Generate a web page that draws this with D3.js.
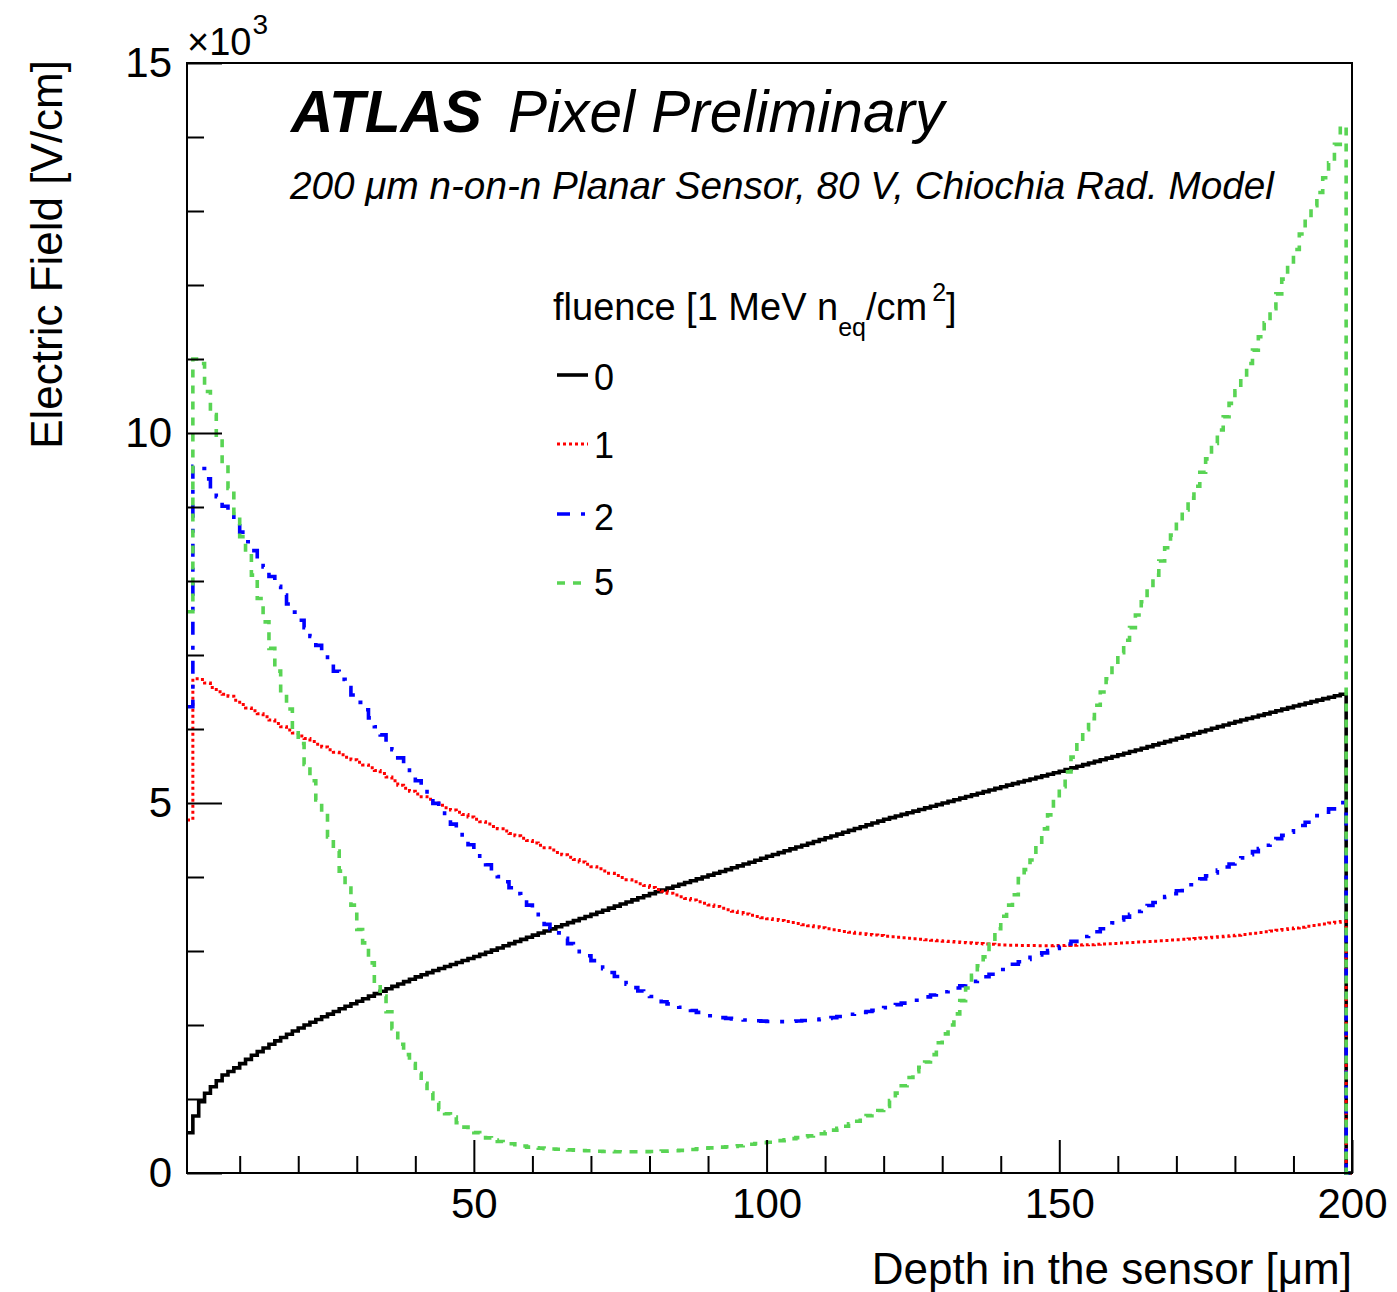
<!DOCTYPE html>
<html><head><meta charset="utf-8">
<script src="https://cdn.jsdelivr.net/npm/d3@7"></script>
<style>
body{margin:0;background:#fff;}
svg{display:block;}
text{font-family:"Liberation Sans",Arial,Helvetica,sans-serif;fill:#000;}
</style>
</head><body>
<svg id="chart" width="1397" height="1292"></svg>
<script>
// ---------------- data ----------------
const depthStart = 1;      // low edge of first bin [um]
const depthEnd = 200;      // axis end [um]
const fluences = ["0", "1", "2", "5"];

// Electric field [V/cm] per 1-um bin, bins starting at 1,2,...,198 um
const field0 = [
544,770,963,1077,1166,1247,1324,1372,1420,1478,
1535,1592,1640,1690,1740,1786,1831,1875,1918,1960,
2000,2038,2075,2111,2147,2183,2219,2253,2287,2320,
2355,2390,2424,2457,2490,2522,2554,2586,2618,2650,
2679,2708,2736,2763,2790,2817,2844,2871,2898,2925,
2954,2983,3012,3041,3070,3099,3128,3157,3186,3215,
3243,3271,3299,3327,3355,3383,3411,3439,3467,3495,
3523,3551,3579,3607,3635,3663,3691,3719,3747,3775,
3800,3825,3850,3875,3900,3925,3950,3975,4000,4025,
4050,4075,4100,4125,4150,4175,4200,4226,4253,4280,
4305,4330,4355,4380,4405,4430,4455,4480,4505,4530,
4555,4580,4605,4630,4655,4680,4705,4730,4755,4780,
4802,4824,4846,4868,4890,4912,4934,4956,4978,5000,
5022,5044,5066,5088,5110,5132,5154,5176,5198,5220,
5241,5262,5283,5304,5325,5346,5367,5388,5409,5430,
5452,5474,5496,5518,5540,5562,5584,5606,5628,5650,
5672,5695,5717,5740,5762,5785,5807,5830,5852,5875,
5897,5920,5942,5965,5987,6010,6032,6055,6077,6100,
6121,6142,6163,6184,6205,6226,6247,6268,6289,6310,
6330,6350,6370,6390,6410,6430,6450,6470];

const field1 = [
4770,6680,6670,6620,6560,6503,6470,6444,6390,6330,
6285,6245,6205,6165,6120,6075,6030,5985,5945,5905,
5870,5830,5795,5758,5720,5686,5652,5618,5585,5550,
5515,5478,5440,5400,5350,5300,5240,5200,5160,5120,
5085,5050,5000,4968,4936,4905,4874,4843,4812,4780,
4748,4716,4684,4652,4620,4588,4556,4524,4492,4460,
4428,4396,4364,4332,4300,4268,4236,4204,4172,4140,
4110,4080,4050,4020,3992,3964,3936,3910,3884,3858,
3832,3806,3782,3758,3734,3710,3688,3666,3644,3622,
3600,3579,3558,3538,3519,3500,3482,3465,3450,3436,
3424,3412,3398,3384,3370,3356,3342,3328,3314,3300,
3288,3276,3264,3252,3240,3232,3224,3216,3208,3200,
3193,3186,3179,3172,3165,3158,3151,3145,3139,3133,
3127,3121,3115,3110,3105,3100,3095,3090,3086,3082,
3079,3077,3075,3074,3073,3072,3072,3072,3073,3074,
3076,3078,3080,3083,3086,3090,3094,3098,3103,3108,
3112,3116,3120,3124,3128,3133,3138,3143,3148,3153,
3158,3163,3168,3174,3180,3186,3192,3198,3206,3214,
3223,3232,3241,3250,3260,3270,3280,3290,3300,3311,
3322,3333,3344,3355,3366,3377,3388,3398];

const field2 = [
6300,9550,9520,9380,9250,9140,9010,8900,8780,8660,
8530,8410,8300,8190,8060,7930,7810,7690,7580,7470,
7370,7250,7130,7010,6900,6780,6670,6560,6460,6360,
6260,6150,6030,5920,5825,5720,5610,5510,5410,5300,
5200,5095,4995,4905,4815,4715,4615,4525,4435,4345,
4255,4165,4075,4005,3935,3855,3775,3690,3620,3540,
3445,3360,3300,3245,3170,3100,3045,2990,2935,2870,
2815,2760,2710,2655,2605,2550,2505,2460,2420,2385,
2350,2315,2285,2260,2240,2220,2195,2170,2140,2125,
2112,2100,2090,2082,2075,2068,2062,2057,2052,2048,
2045,2045,2046,2050,2055,2060,2066,2072,2079,2088,
2100,2115,2130,2145,2158,2170,2182,2198,2215,2235,
2255,2275,2295,2314,2334,2356,2380,2405,2428,2450,
2472,2500,2530,2560,2590,2620,2652,2685,2718,2750,
2785,2820,2855,2885,2915,2945,2975,3005,3035,3060,
3095,3130,3160,3195,3228,3260,3300,3340,3380,3420,
3458,3496,3535,3575,3615,3655,3695,3735,3775,3815,
3855,3895,3935,3975,4015,4055,4095,4135,4175,4215,
4258,4300,4343,4386,4430,4474,4518,4562,4606,4650,
4695,4740,4785,4830,4875,4920,4965,5005];

const field5 = [
7585,11000,10940,10560,10250,9926,9588,9250,8912,8600,
8372,8080,7764,7448,7089,6782,6481,6270,5985,5805,
5520,5300,5040,4870,4540,4350,4080,3850,3620,3290,
3110,2840,2560,2390,2180,1950,1740,1600,1480,1347,
1212,1080,950,860,800,755,680,620,575,545,
520,475,445,425,410,395,383,365,350,342,
336,330,325,320,316,312,308,304,300,297,
294,291,289,288,287,287,287,288,289,291,
293,295,298,301,306,312,318,326,334,340,
345,350,355,360,368,378,388,398,408,416,
423,438,450,465,478,490,502,513,530,555,
580,603,632,665,700,740,775,810,845,900,
980,1080,1180,1290,1370,1430,1500,1600,1760,1880,
2000,2150,2330,2500,2670,2800,2920,3090,3300,3470,
3620,3760,3980,4100,4230,4430,4650,4840,5070,5220,
5420,5620,5830,5990,6140,6320,6500,6680,6860,7030,
7200,7370,7540,7720,7900,8080,8270,8450,8620,8800,
8960,9120,9280,9470,9650,9860,10040,10220,10400,10570,
10750,10940,11120,11300,11490,11680,11880,12080,12280,12480,
12690,12890,13070,13250,13450,13650,13900,14150];

const xTicksMajor = [50, 100, 150, 200];
const xTicksMinor = [10, 20, 30, 40, 60, 70, 80, 90, 110, 120, 130, 140, 160, 170, 180, 190];
const yTicksMajor = [0, 5000, 10000, 15000];
const yTicksMinor = [1000, 2000, 3000, 4000, 6000, 7000, 8000, 9000, 11000, 12000, 13000, 14000];

// ---------------- styles ----------------
const seriesData = [field0, field1, field2, field5];
const seriesStyle = [
  {color: "#000000", width: 3.6, dash: null},
  {color: "#ff0000", width: 3,   dash: "3,3"},
  {color: "#0000ff", width: 3.6, dash: "13,11,4,11"},
  {color: "#59d454", width: 3.6, dash: "8,8"}
];
const FONT = '"Liberation Sans",Arial,Helvetica,sans-serif';

// ---------------- chart ----------------
const svg = d3.select("#chart");
svg.append("rect").attr("width", 1397).attr("height", 1292).attr("fill", "#fff");

const x = d3.scaleLinear().domain([depthStart, depthEnd]).range([187, 1352]);
const y = d3.scaleLinear().domain([0, 15000]).range([1173, 63]);

const line = d3.line()
  .x(d => x(d[0]))
  .y(d => y(d[1]))
  .curve(d3.curveStepAfter);

seriesData.forEach((vals, si) => {
  const pts = vals.map((v, i) => [depthStart + i, v]);
  const lastEdge = depthStart + vals.length;
  pts.push([lastEdge, 0]);
  pts.push([depthEnd, 0]);
  const st = seriesStyle[si];
  svg.append("path")
    .attr("d", line(pts))
    .attr("fill", "none")
    .attr("stroke", st.color)
    .attr("stroke-width", st.width)
    .attr("stroke-dasharray", st.dash)
    .attr("stroke-linejoin", "miter");
});

// frame
svg.append("rect")
  .attr("x", x(depthStart)).attr("y", y(15000))
  .attr("width", x(depthEnd) - x(depthStart))
  .attr("height", y(0) - y(15000))
  .attr("fill", "none").attr("stroke", "#000").attr("stroke-width", 2);

// axes
function styleAxis(g, fs) {
  g.select(".domain").remove();
  g.attr("font-family", FONT).attr("font-size", fs);
  g.selectAll(".tick line").attr("stroke", "#000").attr("stroke-width", 2);
  g.selectAll(".tick text").attr("fill", "#000");
}
const gxMinor = svg.append("g").attr("transform", `translate(0,${y(0)})`)
  .call(d3.axisBottom(x).tickValues(xTicksMinor).tickSize(-17).tickFormat(""));
styleAxis(gxMinor, 42);
const gx = svg.append("g").attr("transform", `translate(0,${y(0)})`)
  .call(d3.axisBottom(x).tickValues(xTicksMajor).tickSize(-33).tickPadding(15).tickFormat(d3.format("d")));
styleAxis(gx, 42);

const gyMinor = svg.append("g").attr("transform", `translate(${x(depthStart)},0)`)
  .call(d3.axisLeft(y).tickValues(yTicksMinor).tickSize(-17).tickFormat(""));
styleAxis(gyMinor, 42);
const gy = svg.append("g").attr("transform", `translate(${x(depthStart)},0)`)
  .call(d3.axisLeft(y).tickValues(yTicksMajor).tickSize(-35).tickPadding(15).tickFormat(d => d / 1000));
styleAxis(gy, 42);

// exponent label
const ex = svg.append("text").attr("x", 187).attr("y", 55).attr("font-size", 38);
ex.append("tspan").text("\u00d710");
ex.append("tspan").attr("font-size", 28).attr("dy", -21).attr("dx", 1).text("3");

// axis titles
svg.append("text")
  .attr("x", 1352).attr("y", 1284)
  .attr("text-anchor", "end").attr("font-size", 44)
  .text("Depth in the sensor [\u03bcm]");
svg.append("text")
  .attr("transform", "translate(62,60) rotate(-90)")
  .attr("text-anchor", "end").attr("font-size", 44)
  .text("Electric Field [V/cm]");

// ATLAS label
svg.append("text").attr("x", 291).attr("y", 132).attr("font-size", 58.6)
  .attr("font-weight", "bold").attr("font-style", "italic").text("ATLAS");
svg.append("text").attr("x", 508).attr("y", 132).attr("font-size", 58.6)
  .attr("font-style", "italic").text("Pixel Preliminary");
svg.append("text").attr("x", 290).attr("y", 199).attr("font-size", 38.7)
  .attr("font-style", "italic").text("200 \u03bcm n-on-n Planar Sensor, 80 V, Chiochia Rad. Model");

// legend
const lh = svg.append("text").attr("x", 553).attr("y", 320).attr("font-size", 38);
lh.append("tspan").text("fluence [1 MeV n");
lh.append("tspan").attr("font-size", 25).attr("dy", 16).text("eq");
lh.append("tspan").attr("font-size", 38).attr("dy", -16).text("/cm");
lh.append("tspan").attr("font-size", 25).attr("dy", -19).attr("dx", 5).text("2");
lh.append("tspan").attr("font-size", 38).attr("dy", 19).text("]");

const legendLineY = [375, 444, 514, 583];
const legendTextY = [390, 458, 530, 595];
fluences.forEach((f, i) => {
  const st = seriesStyle[i];
  svg.append("line")
    .attr("x1", 557).attr("x2", 588)
    .attr("y1", legendLineY[i]).attr("y2", legendLineY[i])
    .attr("stroke", st.color).attr("stroke-width", st.width)
    .attr("stroke-dasharray", st.dash);
  svg.append("text").attr("x", 594).attr("y", legendTextY[i])
    .attr("font-size", 36).text(f);
});
</script>
</body></html>
